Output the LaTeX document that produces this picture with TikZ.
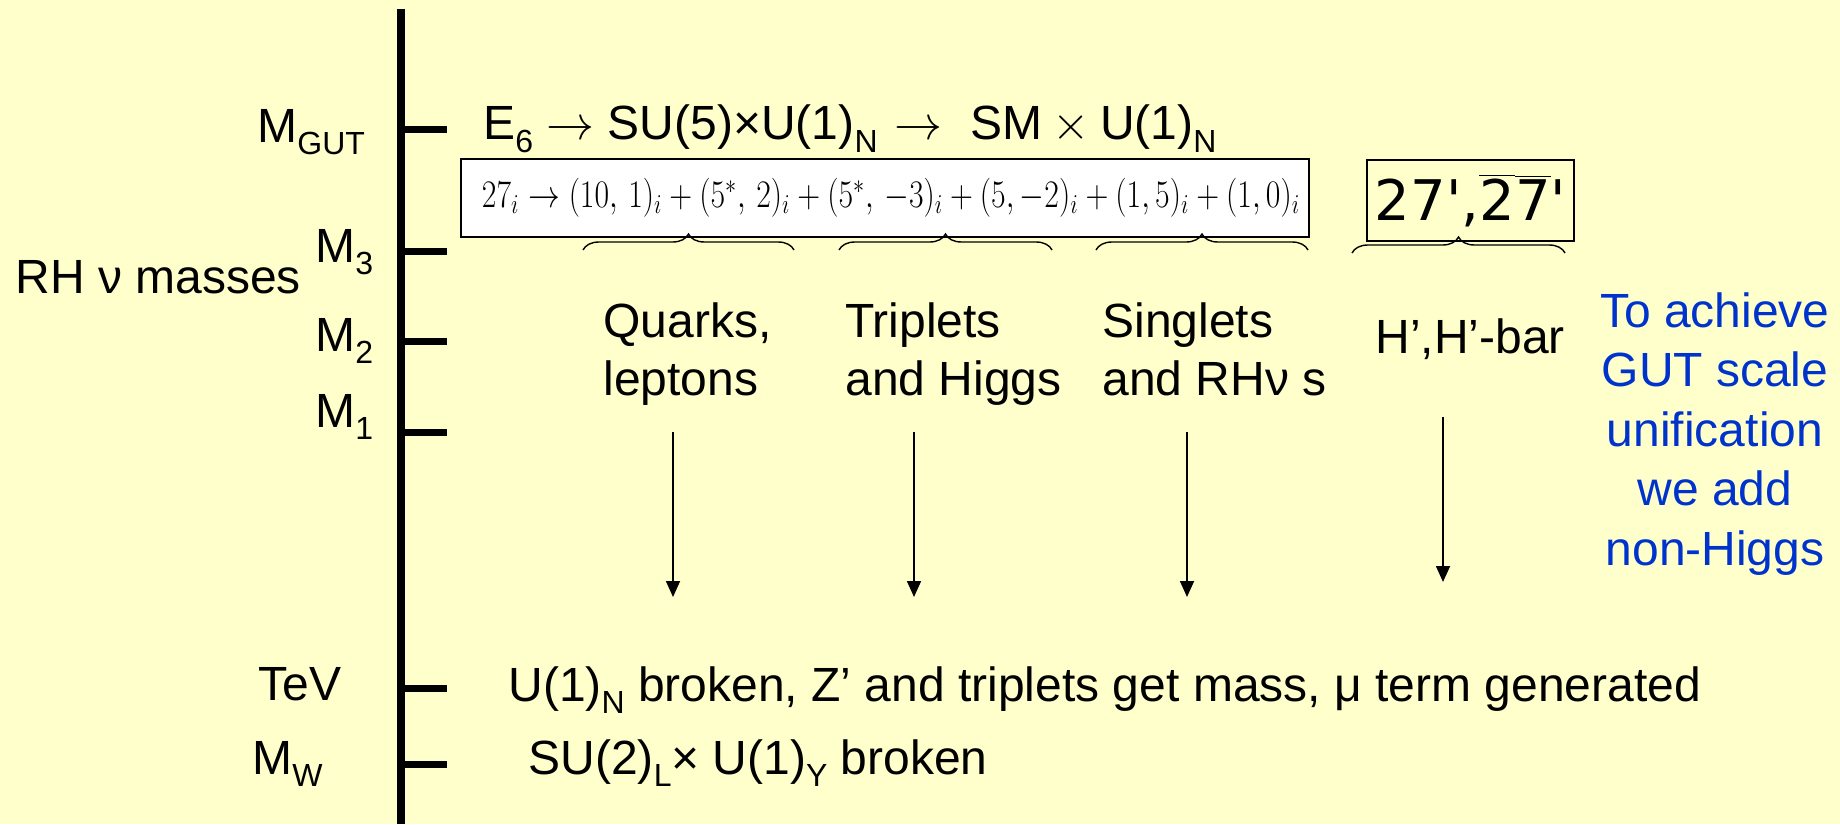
\RequirePackage{fix-cm}
\documentclass[tikz,border=0pt]{standalone}
\usepackage{fontspec}
\setmainfont{Liberation Sans}
\newfontfamily\repfont[Ligatures=TeXOff]{DejaVu Sans}
\usetikzlibrary{arrows.meta,decorations.pathreplacing}
\definecolor{slidebg}{RGB}{255,255,204}
\definecolor{noteblue}{RGB}{0,51,204}
% lowered small index, as on the slide
\newcommand{\lo}[1]{\raisebox{-6pt}{\fontsize{16}{16}\selectfont #1}}

\begin{document}
\begin{tikzpicture}[
  x=0.5pt,
  y=-0.5pt,
  lbl/.style={anchor=base west, inner sep=0pt, font=\fontsize{24}{29}\selectfont},
  twoline/.style={lbl, align=left},
  note/.style={anchor=base, inner sep=0pt, align=center, text=noteblue, font=\fontsize{24}{29.75}\selectfont},
  eqbox/.style={draw=black, fill=white, line width=1pt, minimum width=424pt, minimum height=39pt, inner sep=0pt, font=\fontsize{19.5}{22}\selectfont},
  repbox/.style={draw=black, line width=1pt, minimum width=103.5pt, minimum height=40.5pt, inner sep=0pt, font=\repfont\fontsize{28}{30}\selectfont},
  axisline/.style={line width=4pt},
  tickmark/.style={line width=3.5pt},
  group/.style={decorate, decoration={brace, amplitude=8pt}, line width=0.7pt},
  flow/.style={line width=0.85pt, -{Triangle[length=8pt, width=7pt]}}
]
\fill[slidebg] (0,0) rectangle (1840,824);
\useasboundingbox (0,0) rectangle (1840,824);

% energy scale
\draw[axisline] (401,9) -- (401,824);
\foreach \y in {129,251,341,432,688,764}
  \draw[tickmark] (401,\y) -- (447,\y);

\node[lbl] (mgut) at (257,142) {M\lo{GUT}};
\node[lbl] (m3) at (315,262) {M\lo{3}};
\node[lbl] (m2) at (315,351) {M\lo{2}};
\node[lbl] (m1) at (315,427) {M\lo{1}};
\node[lbl] (rhnu) at (15,293) {RH ν masses};
\node[lbl] (tev) at (258,700) {TeV};
\node[lbl] (mw) at (252,774) {M\lo{W}};

% breaking chain
\node[lbl] (chain) at (483,140) {E\lo{6} $\rightarrow$ SU(5)×U(1)\lo{N}\hspace{8.5pt}$\rightarrow$\hspace{14pt}SM\hspace{5pt}$\times$\hspace{5pt}U(1)\lo{N}};
\node[eqbox] (decomp) at (885,198) {\hspace*{6pt}\resizebox{409pt}{\height}{$27_i \rightarrow (10,\,1)_i + (5^*,\,2)_i + (5^*,\,-3)_i + (5,-2)_i + (1,5)_i + (1,0)_i$}};
\node[repbox] (extra) at (1470.5,200.5) {27',$\overline{\mbox{2}}\overline{\mbox{7}}$'};

\draw[group] (583,250) -- (794,250);
\draw[group] (839,250) -- (1052,250);
\draw[group] (1096,250) -- (1308,250);
\draw[group] (1352,253) -- (1565,253);

\node[twoline] (quarks) at (603,395) {Quarks,\\leptons};
\node[twoline] (trip) at (845,395) {Triplets\\and Higgs};
\node[twoline] (sing) at (1102,395) {Singlets\\and RHν s};
\node[lbl] (hbar) at (1375,353) {H’,H’-bar};
\node[note] (goal) at (1715,565) {To achieve\\GUT scale\\unification\\we add\\non-Higgs};

\coordinate (qa) at (673,432);
\coordinate (qb) at (673,597);
\coordinate (ta) at (914,432);
\coordinate (tb) at (914,597);
\coordinate (sa) at (1187,432);
\coordinate (sb) at (1187,597);
\coordinate (ha) at (1443,417);
\coordinate (hb) at (1443,582);
\draw[flow] (qa) -- (qb);
\draw[flow] (ta) -- (tb);
\draw[flow] (sa) -- (sb);
\draw[flow] (ha) -- (hb);

% low scales
\node[lbl] (tevtext) at (508,701) {U(1)\lo{N} broken, Z’ and triplets get mass, μ term generated};
\node[lbl] (mwtext) at (528,774) {SU(2)\lo{L}× U(1)\lo{Y} broken};
\end{tikzpicture}
\end{document}
